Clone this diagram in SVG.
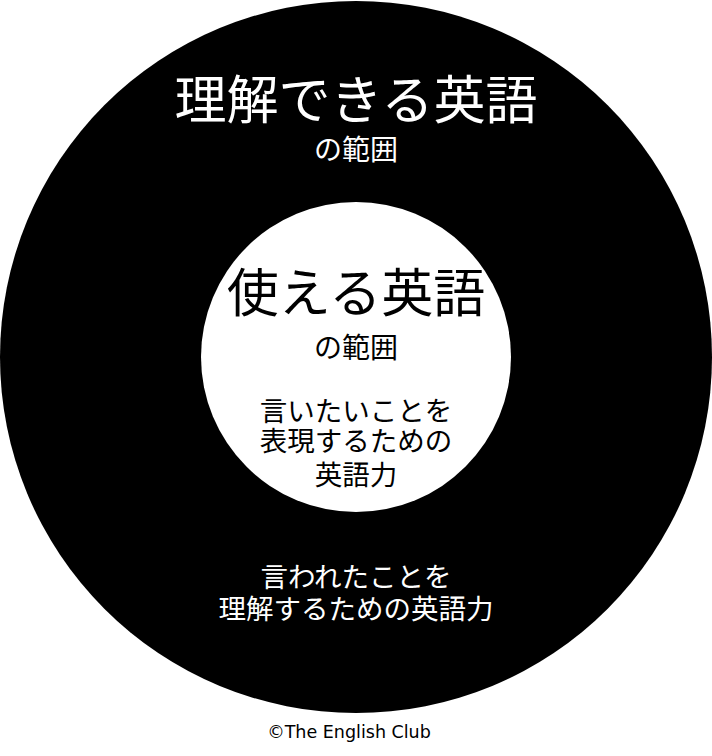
<svg xmlns="http://www.w3.org/2000/svg" width="712" height="756" viewBox="0 0 712 756">
<style>
.jp{font-family:"Noto Sans CJK JP","Noto Sans CJK SC",sans-serif;text-anchor:middle}
.w{fill:#fff}
.b{fill:#000}
.big{font-size:52px}
.mid{font-size:28px}
.sm{font-size:27.5px}
.copy{font-family:"DejaVu Sans",sans-serif;font-size:17.5px;fill:#000;text-anchor:middle}
</style>
<rect width="712" height="756" fill="#fff"/>
<g id="outer">
<circle cx="356" cy="357" r="356" fill="#000"/>
<text class="jp w big" x="356" y="119">理解できる英語</text>
<text class="jp w mid" x="356" y="160">の範囲</text>
<text class="jp w sm" x="356" y="587">言われたことを</text>
<text class="jp w sm" x="356" y="619">理解するための英語力</text>
</g>
<g id="inner">
<circle cx="356" cy="357" r="155" fill="#fff"/>
<text class="jp b big" x="356" y="312">使える英語</text>
<text class="jp b mid" x="356" y="358">の範囲</text>
<text class="jp b sm" x="356" y="421">言いたいことを</text>
<text class="jp b sm" x="356" y="451">表現するための</text>
<text class="jp b sm" x="356" y="485">英語力</text>
</g>
<g id="connectors"></g>
<text class="copy" x="349" y="738">©The English Club</text>
</svg>
